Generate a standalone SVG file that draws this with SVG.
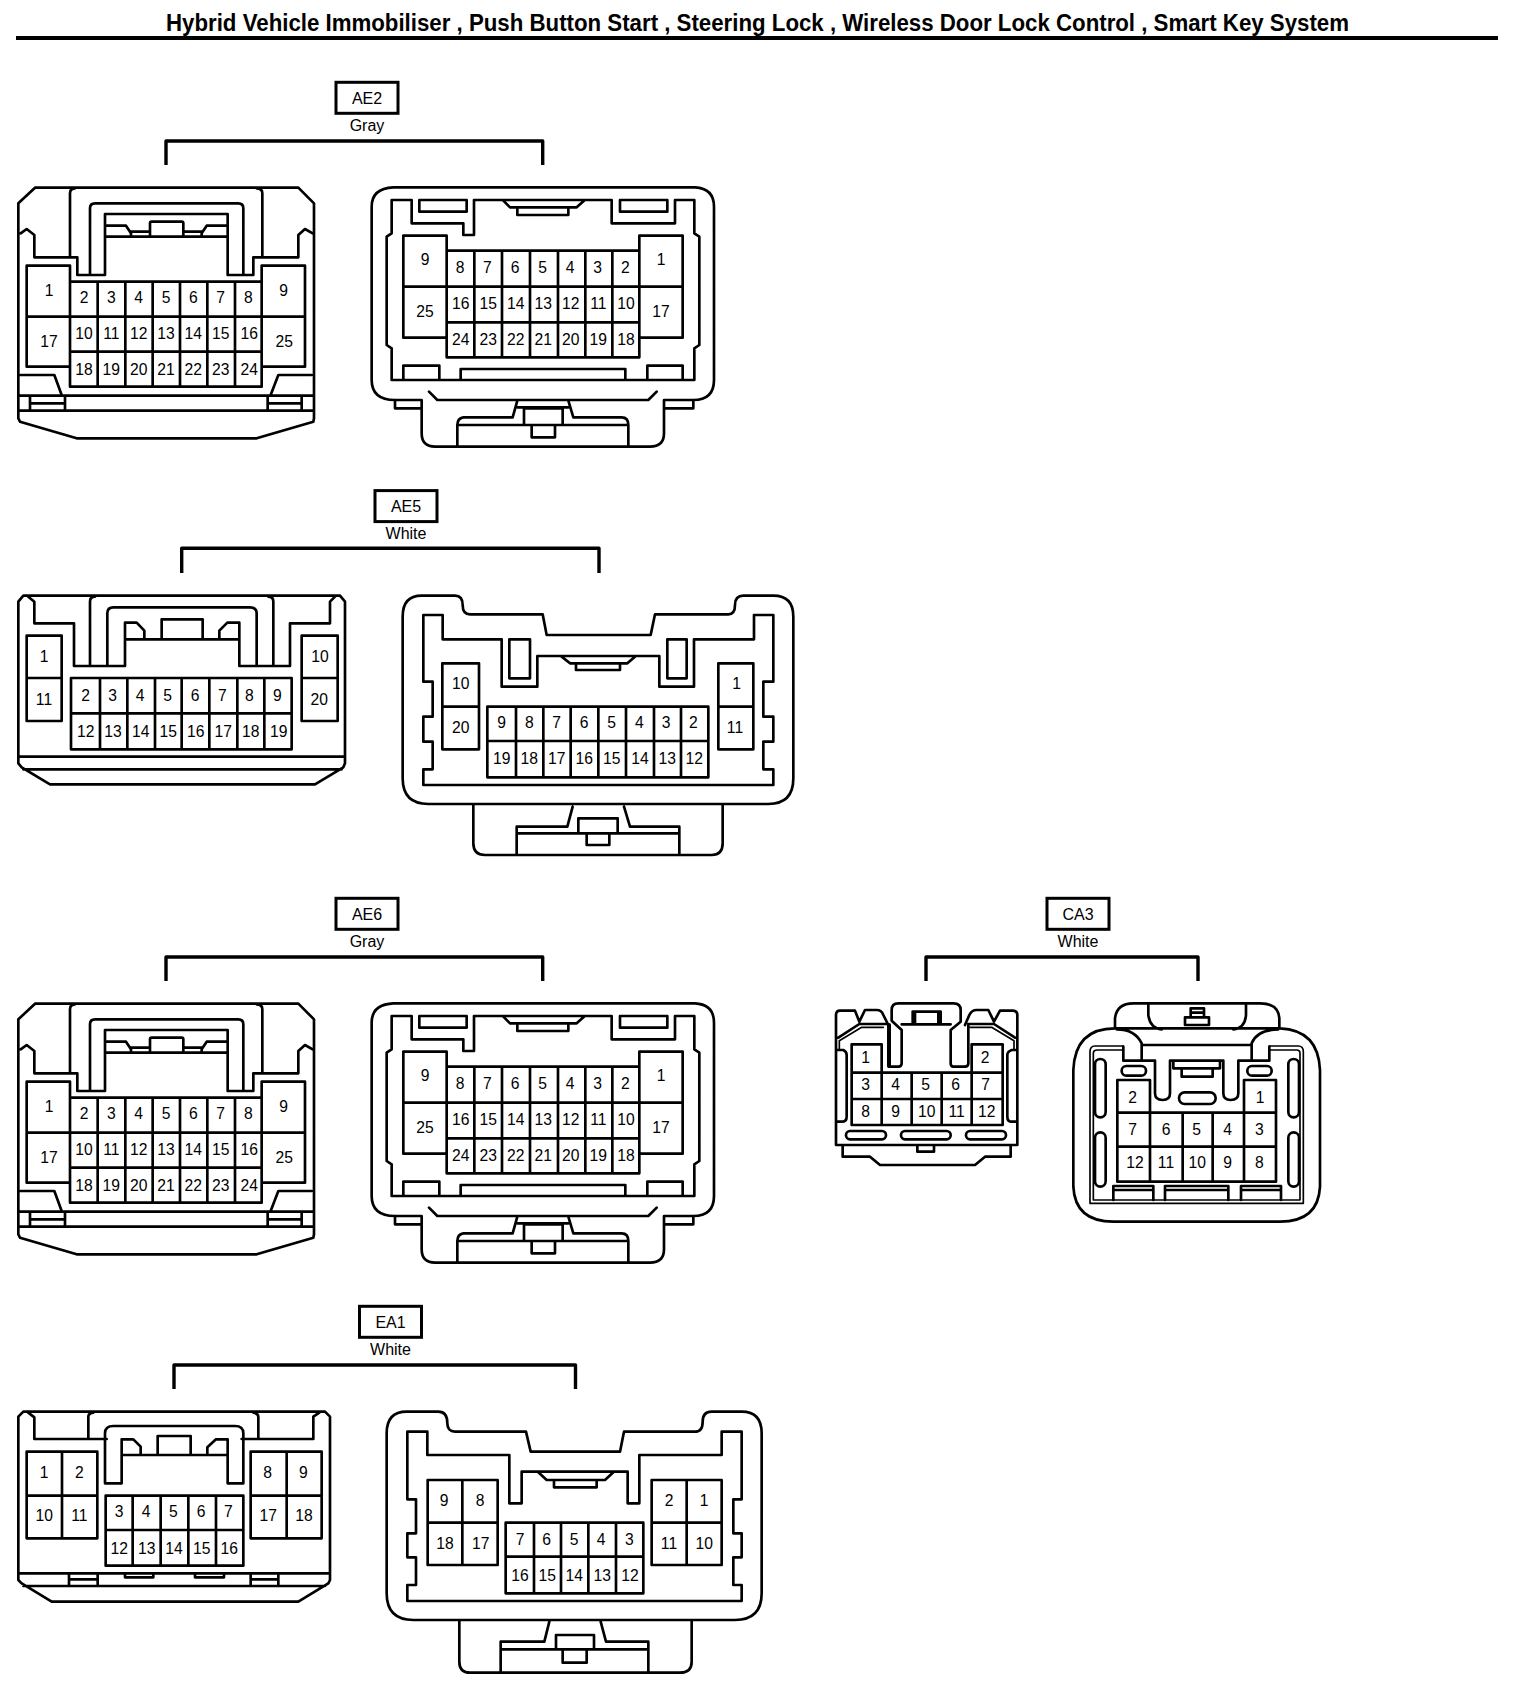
<svg xmlns="http://www.w3.org/2000/svg" xmlns:xlink="http://www.w3.org/1999/xlink" width="1520" height="1694" viewBox="0 0 1520 1694">
<style>
.l{fill:none;stroke:#000;stroke-width:8;stroke-linejoin:round;stroke-linecap:round}
.t{stroke-width:5}
.k{stroke-width:12}
text{font-family:"Liberation Sans",Arial,sans-serif;fill:#000;text-anchor:middle}
.n text{font-size:47px}
.lab{fill:#fff;stroke:#000;stroke-width:3}
.lt{font-size:16px}
.title{font-size:23px;font-weight:bold;text-anchor:start}
.br{fill:none;stroke:#000;stroke-width:3.4;stroke-linejoin:round}
</style>
<defs>
<path id="ae2l" class="l" d="M105 383H895L942 430V1075L940 1085L770 1135H230L60 1085L55 1075V430ZM58 1052H940M60 1007H940M62 520L80 507L103 525V592H232V645H315V462H683V645H760V592H895V525L915 507L938 520M210 592V400Q210 385 225 385M787 592V400Q787 385 770 385M270 645V445Q270 430 285 430H715Q730 430 730 445V645M318 530H683M318 497H378L393 520V530M393 515H450M450 530V490Q450 485 455 485H545Q550 485 550 490V530M550 515H605M605 530V520L620 497H683M80 770H210V617H80V920H210M210 665H785V980H210ZM785 617H915V920H785ZM785 770H915M293 665V980M376 665V980M458 665V980M540 665V980M622 665V980M705 665V980M210 770H785M210 875H785M62 945H163L185 1005M935 945H835L812 1005M90 1010V1050M195 1010V1050M92 1030H195M803 1010V1050M905 1010V1050M803 1030H905"/>
<path id="ae2r" class="l" d="M100 52H1005Q1062 55 1062 110V630Q1062 690 1000 690V715H912V790Q912 830 870 830H225Q185 830 185 790V715H105V690Q35 690 35 630V110Q35 55 100 52ZM105 690H185V715M912 715V690H1000M95 90H155V160H310V195H342V90H755V160H945V90H1003V190L1018 200V525L1003 535V630H95V535L80 525V200L95 190ZM430 92L450 112H650L672 92M472 112V135H625V112M178 90V125H320V90ZM780 90V125H922V90ZM130 197H260V503H130ZM130 350H260M260 242H838V562H260ZM838 197H968V503H838ZM838 350H968M343 242V562M426 242V562M510 242V562M594 242V562M676 242V562M757 242V562M260 350H838M260 457H838M130 630V587H238V630M302 630V597H796V630M862 630V587H968V630M207 665L232 690H865L890 665M472 692L458 742H310Q292 745 292 765V830M292 765H805V830M805 765Q805 742 785 742H640L625 692M492 765V715H608V765M472 712H625M515 765V802H585V765"/>
</defs>

<g id="title">
<text class="title" x="166" y="30.5" textLength="1183" lengthAdjust="spacingAndGlyphs">Hybrid Vehicle Immobiliser , Push Button Start , Steering Lock , Wireless Door Lock Control , Smart Key System</text>
<rect x="16" y="36" width="1482" height="4" fill="#000"/>
</g>

<g id="connectors">
<path class="br" d="M166 165V141H542.7V165"/>
<path class="br" d="M181.7 573V548.3H599V573"/>
<path class="br" d="M166 981V957H542.7V981"/>
<path class="br" d="M926 981V957H1198V981"/>
<path class="br" d="M174 1389V1365H575.5V1389"/>
</g>

<g id="label-AE2"><rect class="lab" x="336" y="82.3" width="62" height="31"/><text class="lt" x="367" y="103.8">AE2</text><text class="lt" x="367" y="130.8">Gray</text></g>
<g id="label-AE5"><rect class="lab" x="375" y="490.6" width="62" height="31"/><text class="lt" x="406" y="512">AE5</text><text class="lt" x="406" y="539">White</text></g>
<g id="label-AE6"><rect class="lab" x="336" y="898.3" width="62" height="31"/><text class="lt" x="367" y="919.8">AE6</text><text class="lt" x="367" y="946.8">Gray</text></g>
<g id="label-CA3"><rect class="lab" x="1047" y="898.3" width="62" height="31"/><text class="lt" x="1078" y="919.8">CA3</text><text class="lt" x="1078" y="946.8">White</text></g>
<g id="label-EA1"><rect class="lab" x="359.5" y="1306.3" width="62" height="31"/><text class="lt" x="390.5" y="1327.8">EA1</text><text class="lt" x="390.5" y="1354.8">White</text></g>

<g id="AE2-left" class="n" transform="translate(0 60) scale(.33333)">
<use xlink:href="#ae2l" href="#ae2l"/>
<text x="147" y="708">1</text><text x="147" y="860">17</text><text x="851" y="708">9</text><text x="853" y="860">25</text>
<text x="252" y="730">2</text><text x="334" y="730">3</text><text x="416" y="730">4</text><text x="498" y="730">5</text><text x="580" y="730">6</text><text x="662" y="730">7</text><text x="745" y="730">8</text>
<text x="252" y="838">10</text><text x="334" y="838">11</text><text x="416" y="838">12</text><text x="498" y="838">13</text><text x="580" y="838">14</text><text x="662" y="838">15</text><text x="748" y="838">16</text>
<text x="252" y="945">18</text><text x="334" y="945">19</text><text x="416" y="945">20</text><text x="498" y="945">21</text><text x="580" y="945">22</text><text x="662" y="945">23</text><text x="748" y="945">24</text>
</g>

<g id="AE2-right" class="n" transform="translate(360 170) scale(.33333)">
<use xlink:href="#ae2r" href="#ae2r"/>
<text x="195" y="285">9</text><text x="195" y="440">25</text><text x="903" y="285">1</text><text x="903" y="440">17</text>
<text x="300" y="310">8</text><text x="382" y="310">7</text><text x="465" y="310">6</text><text x="548" y="310">5</text><text x="630" y="310">4</text><text x="713" y="310">3</text><text x="796" y="310">2</text>
<text x="302" y="416">16</text><text x="385" y="416">15</text><text x="467" y="416">14</text><text x="550" y="416">13</text><text x="632" y="416">12</text><text x="715" y="416">11</text><text x="798" y="416">10</text>
<text x="302" y="524">24</text><text x="385" y="524">23</text><text x="467" y="524">22</text><text x="550" y="524">21</text><text x="632" y="524">20</text><text x="715" y="524">19</text><text x="798" y="524">18</text>
</g>

<g id="AE5-left" class="n" transform="translate(0 480) scale(.33333)">
<path class="l" d="M70 347H1020L1035 365V850L1030 862L945 913H150L65 862L55 850V365ZM55 830H1035M70 868H1025M85 350L103 365V430H222V558H375V428H410L433 452V478M378 478H715M485 478V418H608V478M658 478V452L682 428H718V558H870V430H990V365L1005 350M270 558V365Q270 350 285 350M820 558V365Q820 350 805 350M322 558V400Q322 382 340 382H750Q770 382 770 400V558M80 467H185V723H80ZM80 594H185M905 467H1013V723H905ZM905 594H1013M213 594H875V808H213ZM300 594V808M382 594V808M465 594V808M545 594V808M628 594V808M712 594V808M793 594V808M213 700H875"/>
<text x="132" y="547">1</text><text x="132" y="676">11</text><text x="960" y="547">10</text><text x="958" y="676">20</text>
<text x="257" y="663">2</text><text x="338" y="663">3</text><text x="420" y="663">4</text><text x="503" y="663">5</text><text x="585" y="663">6</text><text x="667" y="663">7</text><text x="748" y="663">8</text><text x="832" y="663">9</text>
<text x="257" y="770">12</text><text x="339" y="770">13</text><text x="422" y="770">14</text><text x="505" y="770">15</text><text x="587" y="770">16</text><text x="670" y="770">17</text><text x="752" y="770">18</text><text x="836" y="770">19</text>
</g>

<g id="AE5-right" class="n" transform="translate(390 580) scale(.33333)">
<path class="l" d="M38 110Q38 47 95 47H195Q218 47 218 75Q218 103 240 103H458L470 165H782L795 103H1015Q1035 103 1035 75Q1035 47 1060 47H1150Q1210 47 1210 110V595Q1210 672 1135 672H115Q38 672 38 595ZM250 672V790Q250 825 285 825H965Q998 825 998 790V672M548 680L532 740H380V825M380 760H868M868 825V740H720L702 680M565 755V715H683V755M590 760V795H658V760M100 105H158V178H335V320H442V228H808V320H912V178H1092V105H1150V305H1120V410H1150V485H1120V568H1150V615H100V568H128V485H100V410H128V305H100ZM515 230L540 250H712L735 230M558 250V270H690V250M358 178V295H420V178ZM832 178V295H890V178ZM157 250H267V508H157ZM157 380H267M985 250H1090V508H985ZM985 380H1090M292 380H955V592H292ZM378 380V592M460 380V592M542 380V592M625 380V592M708 380V592M792 380V592M873 380V592M292 483H955"/>
<text x="212" y="327">10</text><text x="212" y="458">20</text><text x="1040" y="327">1</text><text x="1035" y="458">11</text>
<text x="335" y="445">9</text><text x="418" y="445">8</text><text x="500" y="445">7</text><text x="582" y="445">6</text><text x="665" y="445">5</text><text x="748" y="445">4</text><text x="828" y="445">3</text><text x="910" y="445">2</text>
<text x="335" y="553">19</text><text x="418" y="553">18</text><text x="500" y="553">17</text><text x="583" y="553">16</text><text x="665" y="553">15</text><text x="750" y="553">14</text><text x="832" y="553">13</text><text x="913" y="553">12</text>
</g>

<g id="AE6-left" class="n" transform="translate(0 876) scale(.33333)">
<use xlink:href="#ae2l" href="#ae2l"/>
<text x="147" y="708">1</text><text x="147" y="860">17</text><text x="851" y="708">9</text><text x="853" y="860">25</text>
<text x="252" y="730">2</text><text x="334" y="730">3</text><text x="416" y="730">4</text><text x="498" y="730">5</text><text x="580" y="730">6</text><text x="662" y="730">7</text><text x="745" y="730">8</text>
<text x="252" y="838">10</text><text x="334" y="838">11</text><text x="416" y="838">12</text><text x="498" y="838">13</text><text x="580" y="838">14</text><text x="662" y="838">15</text><text x="748" y="838">16</text>
<text x="252" y="945">18</text><text x="334" y="945">19</text><text x="416" y="945">20</text><text x="498" y="945">21</text><text x="580" y="945">22</text><text x="662" y="945">23</text><text x="748" y="945">24</text>
</g>

<g id="AE6-right" class="n" transform="translate(360 986) scale(.33333)">
<use xlink:href="#ae2r" href="#ae2r"/>
<text x="195" y="285">9</text><text x="195" y="440">25</text><text x="903" y="285">1</text><text x="903" y="440">17</text>
<text x="300" y="310">8</text><text x="382" y="310">7</text><text x="465" y="310">6</text><text x="548" y="310">5</text><text x="630" y="310">4</text><text x="713" y="310">3</text><text x="796" y="310">2</text>
<text x="302" y="416">16</text><text x="385" y="416">15</text><text x="467" y="416">14</text><text x="550" y="416">13</text><text x="632" y="416">12</text><text x="715" y="416">11</text><text x="798" y="416">10</text>
<text x="302" y="524">24</text><text x="385" y="524">23</text><text x="467" y="524">22</text><text x="550" y="524">21</text><text x="632" y="524">20</text><text x="715" y="524">19</text><text x="798" y="524">18</text>
</g>

<g id="CA3-left" class="n" transform="translate(820 890) scale(.33333)">
<path class="l" d="M48 765V375Q48 362 60 362H105L118 395L135 360H170Q185 360 190 375L205 405M592 765V375Q592 362 578 362H540L522 395L505 360H470Q455 360 448 375L435 405M48 765H592M68 765V800H150L180 825H465L495 800H572V765M292 770V785H342V770M215 392V360Q215 340 235 340H400Q422 340 422 360V395L392 420V520Q392 530 400 530H435Q445 530 445 520V405M245 420L215 392M245 420V520Q245 530 235 530H207V405M245 403H392M278 403V365H362V403M285 370V400M355 370V400M55 443L118 402H200M585 443L522 402H445M50 480H70Q80 485 80 495V680Q80 695 65 695H50M592 480H575Q562 485 562 495V680Q562 695 575 695H592M95 548H548V705H95ZM95 463H185V548H95ZM455 463H548V548H455ZM185 548V705M275 548V705M365 548V705M455 548V705M95 627H548"/>
<path class="l t" d="M58 478V452L125 412H190M582 478V452L515 412H450"/>
<path class="l k" d="M207 405V528"/>
<rect class="l" x="78" y="723" width="120" height="25" rx="12"/><rect class="l" x="243" y="723" width="149" height="25" rx="12"/><rect class="l" x="438" y="723" width="120" height="25" rx="12"/>
<text x="137" y="518">1</text><text x="495" y="518">2</text>
<text x="137" y="600">3</text><text x="227" y="600">4</text><text x="317" y="600">5</text><text x="407" y="600">6</text><text x="497" y="600">7</text>
<text x="137" y="680">8</text><text x="227" y="680">9</text><text x="320" y="680">10</text><text x="410" y="680">11</text><text x="500" y="680">12</text>
</g>

<g id="CA3-right" class="n" transform="translate(1060 990) scale(.33333)">
<path class="l" d="M165 112V85Q170 40 220 40H600Q655 40 658 85V112M265 40V75Q270 115 305 118M558 40V75Q555 115 520 118M375 82V105H447V82ZM392 82V55H432V82M392 68H432M40 590V240Q45 115 165 115H660Q775 120 780 240V590Q775 695 660 695H160Q45 695 40 590ZM170 118Q225 118 245 160V210M655 118Q590 120 575 160V210M245 165H575M190 212H285V310Q285 330 308 330Q330 330 330 310V212H490V310Q490 330 512 330Q535 330 535 310V212H628V170M190 212V170M340 212V235H365V260H458V235H480V212M340 235H480M172 368H648V575H172ZM172 270H270V368H172ZM552 270H648V368H552ZM270 368V575M368 368V575M458 368V575M552 368V575M172 470H648M160 630V588H280V630M160 600H280M315 630V588H505V630M315 600H505M543 630V588H663V630M543 600H663"/>
<path class="l t" d="M190 168H105Q90 168 90 185V640H730V185Q730 168 715 168H628M190 180H112Q100 180 100 190V630H720V190Q720 180 710 180H630"/>
<rect class="l" x="185" y="228" width="73" height="29" rx="14"/><rect class="l" x="562" y="228" width="73" height="29" rx="14"/><rect class="l" x="357" y="307" width="110" height="35" rx="17"/>
<rect class="l" x="105" y="207" width="32" height="175" rx="16"/><rect class="l" x="105" y="427" width="32" height="163" rx="16"/><rect class="l" x="685" y="207" width="32" height="175" rx="16"/><rect class="l" x="685" y="427" width="32" height="163" rx="16"/>
<text x="218" y="338">2</text><text x="600" y="338">1</text>
<text x="218" y="435">7</text><text x="318" y="435">6</text><text x="410" y="435">5</text><text x="503" y="435">4</text><text x="598" y="435">3</text>
<text x="225" y="535">12</text><text x="318" y="535">11</text><text x="412" y="535">10</text><text x="503" y="535">9</text><text x="598" y="535">8</text>
</g>

<g id="EA1-left" class="n" transform="translate(0 1300) scale(.33333)">
<path class="l" d="M70 335H975L990 350V840L985 850L895 905H155L65 850L55 840V350ZM55 820H990M70 858H975M85 338L103 352V417H320M265 417V350Q265 340 280 338M775 417V350Q775 340 760 338M725 417H940V350L958 338M315 550V400Q315 378 340 378H705Q730 378 730 400V550H683V418H648L622 442V465M315 550H365V418H400L422 440V465M365 465H683M473 465V408H572V465M80 455H292V715H80ZM186 455V715M80 587H292M752 455H965V715H752ZM860 455V715M752 587H965M317 587H730V797H317ZM398 587V797M482 587V797M565 587V797M648 587V797M317 690H730M207 825V855M293 825V855M207 838H293M752 825V855M835 825V855M752 838H835M375 825V832H460V825M585 825V832H672V825"/>
<text x="132" y="535">1</text><text x="238" y="535">2</text><text x="133" y="663">10</text><text x="238" y="663">11</text><text x="803" y="535">8</text><text x="910" y="535">9</text><text x="805" y="663">17</text><text x="912" y="663">18</text>
<text x="357" y="650">3</text><text x="438" y="650">4</text><text x="520" y="650">5</text><text x="603" y="650">6</text><text x="685" y="650">7</text>
<text x="358" y="762">12</text><text x="440" y="762">13</text><text x="522" y="762">14</text><text x="605" y="762">15</text><text x="688" y="762">16</text>
</g>

<g id="EA1-right" class="n" transform="translate(370 1400) scale(.33333)">
<path class="l" d="M50 100Q50 35 110 35H205Q232 35 232 70Q232 95 255 95H468L482 155H750L762 95H975Q998 95 998 65Q998 35 1025 35H1115Q1175 35 1175 100V580Q1175 660 1095 660H130Q50 660 50 580ZM268 660V785Q268 818 300 818H930Q965 818 965 785V660M538 665L523 725H392V818M392 748H835M835 818V725H708L692 665M558 748V705H672V748M578 752V788H650V752M112 95H172V165H418V310H455V215H773V310H808V165H1055V95H1115V298H1090V400H1115V472H1090V555H1115V603H112V555H138V472H112V400H138V298H112ZM505 217L530 240H705L730 217M552 240V262H680V240M173 240H383V495H173ZM277 240V495M173 368H383M845 240H1055V495H845ZM950 240V495M845 368H1055M407 368H820V580H407ZM492 368V580M573 368V580M655 368V580M738 368V580M407 470H820"/>
<text x="222" y="318">9</text><text x="330" y="318">8</text><text x="225" y="447">18</text><text x="332" y="447">17</text><text x="897" y="318">2</text><text x="1002" y="318">1</text><text x="897" y="447">11</text><text x="1003" y="447">10</text>
<text x="450" y="435">7</text><text x="530" y="435">6</text><text x="612" y="435">5</text><text x="693" y="435">4</text><text x="778" y="435">3</text>
<text x="450" y="542">16</text><text x="532" y="542">15</text><text x="613" y="542">14</text><text x="697" y="542">13</text><text x="780" y="542">12</text>
</g>
</svg>
